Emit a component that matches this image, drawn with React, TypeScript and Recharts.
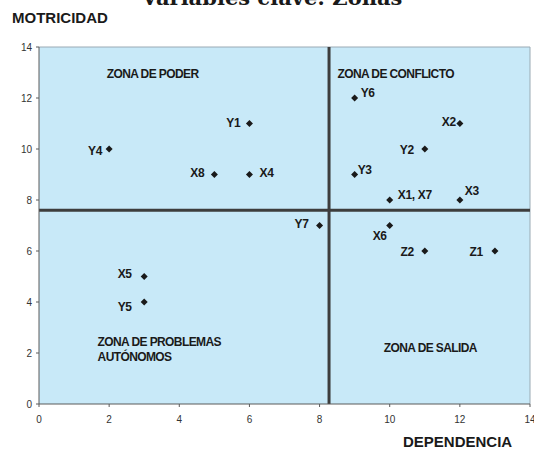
import { ScatterChart, Scatter, XAxis, YAxis, CartesianGrid, ReferenceLine } from "recharts";

const pointNames = ["Y4", "Y1", "X8", "X4", "Y6", "X2", "Y2", "Y3", "X1, X7", "X3", "Y7", "X6", "Z2", "Z1", "X5", "Y5"];
const dependencia = [2, 6, 5, 6, 9, 12, 11, 9, 10, 12, 8, 10, 11, 13, 3, 3];
const motricidad = [10, 11, 9, 9, 12, 11, 10, 9, 8, 8, 7, 7, 6, 6, 5, 4];

const zoneNames = ["ZONA DE PODER", "ZONA DE CONFLICTO", "ZONA DE PROBLEMAS\nAUTÓNOMOS", "ZONA DE SALIDA"];
const zoneX = [1.93, 8.51, 1.67, 9.83];
const zoneY = [12.78, 12.78, 2.29, 2.02];

const axisTicks = [0, 2, 4, 6, 8, 10, 12, 14];
const splitX = 8.27;
const splitY = 7.6;

// where each label sits relative to its marker: [anchor, dx, dy]
const labelOffsets: Record<string, [string, number, number]> = {
  Y4: ["end", -7, 5.5],
  Y1: ["end", -9, 3],
  X8: ["end", -10, 2],
  X4: ["start", 10, 2],
  Y6: ["start", 6, -1.5],
  X2: ["end", -4, 2.5],
  Y2: ["end", -11, 5],
  Y3: ["start", 3, -0.5],
  "X1, X7": ["start", 8, -1.5],
  X3: ["start", 5, -5],
  Y7: ["end", -11, 2.5],
  X6: ["end", -3, 14.5],
  Z2: ["end", -11, 5],
  Z1: ["end", -12, 5],
  X5: ["end", -12.5, 1],
  Y5: ["end", -12.5, 8.5],
};

const points = pointNames.map((name, i) => ({ name, x: dependencia[i], y: motricidad[i] }));
const zones = zoneNames.map((name, i) => ({ name, x: zoneX[i], y: zoneY[i] }));

const SANS = "'Liberation Sans', Arial, sans-serif";

function PointShape(props: any) {
  const { cx, cy, payload } = props;
  const [anchor, dx, dy] = labelOffsets[payload.name] ?? ["start", 6, 4];
  const r = 3.5;
  return (
    <g>
      <polygon
        points={`${cx},${cy - r} ${cx + r},${cy} ${cx},${cy + r} ${cx - r},${cy}`}
        fill="#1a1a1a"
      />
      <text
        x={cx + dx}
        y={cy + dy}
        textAnchor={anchor as any}
        fontFamily={SANS}
        fontWeight="bold"
        fontSize={12}
        letterSpacing={-0.3}
        fill="#1a1a1a"
      >
        {payload.name}
      </text>
    </g>
  );
}

function ZoneShape(props: any) {
  const { cx, cy, payload } = props;
  const lines = String(payload.name).split("\n");
  return (
    <text
      x={cx}
      y={cy}
      fontFamily={SANS}
      fontWeight="bold"
      fontSize={12}
      letterSpacing={-0.6}
      fill="#1a1a1a"
    >
      {lines.map((l, i) => (
        <tspan key={i} x={cx} dy={i === 0 ? 0 : 15.7}>
          {l}
        </tspan>
      ))}
    </text>
  );
}

export default function App() {
  return (
    <div style={{ position: "absolute", left: 0, top: 0, width: 534, height: 449, background: "#fff" }}>
      <ScatterChart width={534} height={449} margin={{ top: 47, right: 4, bottom: 15, left: 0 }}>
        <CartesianGrid horizontal={false} vertical={false} fill="#c8e9f8" />
        <XAxis
          type="number"
          dataKey="x"
          domain={[0, 14]}
          ticks={axisTicks}
          interval={0}
          height={30}
          tickSize={3}
          tickMargin={9}
          stroke="#5a5a5a"
          tick={{ fill: "#333", fontSize: 10, fontFamily: SANS }}
        />
        <YAxis
          type="number"
          dataKey="y"
          domain={[0, 14]}
          ticks={axisTicks}
          interval={0}
          width={39}
          tickSize={3}
          tickMargin={4}
          stroke="#5a5a5a"
          tick={{ fill: "#333", fontSize: 10, fontFamily: SANS }}
        />
        <ReferenceLine x={14} stroke="#9aaab4" strokeWidth={1} />
        <ReferenceLine y={14} stroke="#9aaab4" strokeWidth={1} />
        <ReferenceLine x={splitX} stroke="#3d3d3d" strokeWidth={3} />
        <ReferenceLine y={splitY} stroke="#3d3d3d" strokeWidth={3} />
        <Scatter data={zones} shape={ZoneShape} isAnimationActive={false} />
        <Scatter data={points} shape={PointShape} isAnimationActive={false} />
        <text
          x={272}
          y={5}
          textAnchor="middle"
          fontFamily="'DejaVu Serif', serif"
          fontWeight="bold"
          fontSize={21}
          fill="#1a1a1a"
        >
          Variables clave: Zonas
        </text>
        <text x={12} y={23.3} fontFamily={SANS} fontWeight="bold" fontSize={15} fill="#1a1a1a">
          MOTRICIDAD
        </text>
        <text x={403} y={447} fontFamily={SANS} fontWeight="bold" fontSize={15} fill="#1a1a1a">
          DEPENDENCIA
        </text>
      </ScatterChart>
    </div>
  );
}
